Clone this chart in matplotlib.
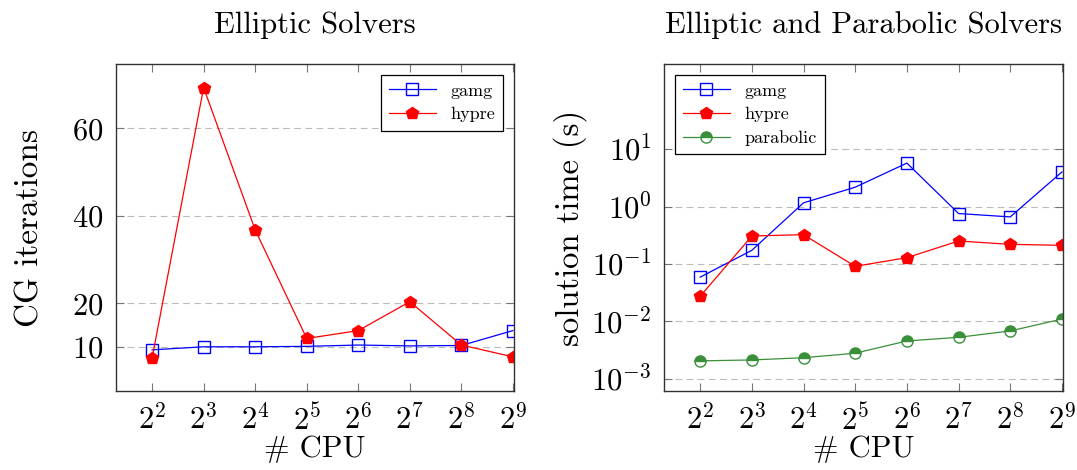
import matplotlib
matplotlib.use("Agg")
import matplotlib.pyplot as plt
import numpy as np

plt.rcParams['font.family'] = ['cmr10', 'DejaVu Serif']
plt.rcParams['mathtext.fontset'] = 'cm'
plt.rcParams['axes.formatter.use_mathtext'] = True

cpus = [4, 8, 16, 32, 64, 128, 256, 512]
cpu_labels = [r'$2^{%d}$' % k for k in range(2, 10)]

# elliptic: CG iterations
iter_gamg = [9.4, 10.1, 10.1, 10.2, 10.5, 10.3, 10.4, 13.8]
iter_hypre = [7.5, 69.3, 36.8, 12.0, 13.8, 20.4, 10.5, 7.8]

# solution time (s)
time_gamg = [0.059, 0.173, 1.16, 2.17, 5.7, 0.755, 0.66, 4.0]
time_hypre = [0.0274, 0.307, 0.324, 0.091, 0.129, 0.251, 0.22, 0.211]
time_parabolic = [0.00206, 0.00214, 0.00234, 0.0028, 0.00458, 0.0053, 0.00684, 0.0110]

fig = plt.figure(figsize=(10.77, 4.7), dpi=100)
ax1 = fig.add_axes([0.1077, 0.1681, 0.3695, 0.6957])
ax2 = fig.add_axes([0.6165, 0.1681, 0.3705, 0.6957])

gamg_style = dict(color='blue', marker='s', mfc='none', mec='blue', ms=8, lw=0.9, mew=1.0)
hypre_style = dict(color='red', marker='p', mfc='red', mec='red', ms=9, lw=0.9)
para_style = dict(color='#3a8f3a', marker='o', fillstyle='top', mfc='#3a8f3a',
                  markerfacecoloralt='white', mec='#3a8f3a', ms=8, lw=0.9, mew=1.0)

ax1.plot(cpus, iter_gamg, label='gamg', **gamg_style)
ax1.plot(cpus, iter_hypre, label='hypre', **hypre_style)

ax2.plot(cpus, time_gamg, label='gamg', **gamg_style)
ax2.plot(cpus, time_hypre, label='hypre', **hypre_style)
ax2.plot(cpus, time_parabolic, label='parabolic', **para_style)

for ax in (ax1, ax2):
    ax.set_xscale('log', base=2)
    ax.set_xlim(2 ** 1.3, 2 ** 9.02)
    ax.set_xticks(cpus)
    ax.set_xticklabels(cpu_labels)
    ax.minorticks_off()
    ax.tick_params(direction='in', top=True, right=True, length=6, width=0.8,
                   color='#777777', labelsize=22, pad=9)
    ax.yaxis.grid(True, linestyle=(0, (6, 4)), color='#bbbbbb', lw=0.8)
    ax.set_axisbelow(True)
    for s in ax.spines.values():
        s.set_linewidth(1.0)
        s.set_color('#333333')
    ax.set_xlabel('# CPU', fontsize=22, labelpad=0)

ax1.set_ylim(0, 74.7)
ax1.set_yticks([10, 20, 40, 60])
ax1.set_ylabel('CG iterations', fontsize=24, labelpad=20)
ax1.set_title('Elliptic Solvers', fontsize=22, pad=22)

ax2.set_yscale('log')
ax2.set_ylim(10 ** -3.21, 10 ** 2.48)
ax2.set_yticks([1e-3, 1e-2, 1e-1, 1e0, 1e1])
ax2.minorticks_off()
ax2.set_ylabel('solution time (s)', fontsize=23.5, labelpad=3)
ax2.set_title('Elliptic and Parabolic Solvers', fontsize=22, pad=22)

leg_kw = dict(fontsize=13, frameon=True, fancybox=False, edgecolor='black',
              framealpha=1, borderaxespad=0.6, handlelength=2.6,
              labelspacing=0.45, borderpad=0.45)
l1 = ax1.legend(loc='upper right', **leg_kw)
l2 = ax2.legend(loc='upper left', **leg_kw)
for l in (l1, l2):
    l.get_frame().set_linewidth(0.9)

fig.savefig('out.png', dpi=100)
